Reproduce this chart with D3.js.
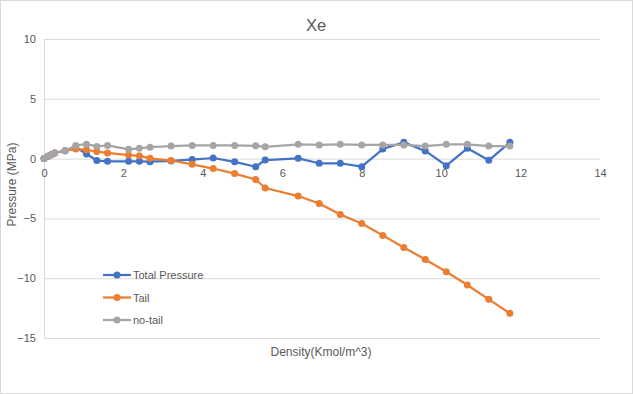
<!DOCTYPE html>
<html>
<head>
<meta charset="utf-8">
<script src="https://cdn.jsdelivr.net/npm/d3@7"></script>
<style>
    html, body { margin: 0; padding: 0; background: #fff; }
    #chart { width: 633px; height: 394px; }
    text { font-family: "Liberation Sans", Arial, sans-serif; }
</style>
</head>
<body>
<div id="chart"></div>
<script>
// ========================================
// DATA
// ========================================
const density = [0, 0.1, 0.18, 0.27, 0.53, 0.8, 1.07, 1.33, 1.6, 2.13, 2.4, 2.67, 3.2, 3.73, 4.26,
    4.8, 5.33, 5.57, 6.4, 6.93, 7.46, 8.0, 8.53, 9.06, 9.6, 10.13, 10.66, 11.2, 11.73];

const totalPressure = [0, 0.19, 0.33, 0.47, 0.66, 0.96, 0.38, -0.16, -0.23, -0.23, -0.23, -0.26, -0.2, -0.08, 0.05,
    -0.27, -0.68, -0.12, 0.02, -0.39, -0.39, -0.68, 0.8, 1.36, 0.64, -0.59, 0.86, -0.14, 1.36];

const tail = [0, 0.19, 0.33, 0.47, 0.66, 0.8, 0.74, 0.59, 0.47, 0.3, 0.23, 0.02, -0.16, -0.48, -0.83,
    -1.25, -1.75, -2.46, -3.13, -3.75, -4.67, -5.42, -6.42, -7.43, -8.43, -9.46, -10.57, -11.77, -12.94];

const noTail = [0, 0.19, 0.33, 0.47, 0.66, 1.1, 1.21, 1.02, 1.1, 0.78, 0.86, 0.95, 1.05, 1.1, 1.1,
    1.1, 1.07, 0.99, 1.19, 1.14, 1.19, 1.14, 1.14, 1.14, 1.05, 1.19, 1.19, 1.05, 1.05];

const xTicks = [0, 2, 4, 6, 8, 10, 12, 14];
const yTicks = [10, 5, 0, -5, -10, -15];

const seriesNames = ['Total Pressure', 'Tail', 'no-tail'];
const seriesColors = ['#4472C4', '#ED7D31', '#A5A5A5'];

// ========================================
// CHART
// ========================================
const width = 633, height = 394;
const plot = { left: 44, right: 600, top: 39, bottom: 338 };

const svg = d3.select('#chart').append('svg')
    .attr('width', width).attr('height', height);

// outer border
svg.append('rect')
    .attr('x', 0.5).attr('y', 0.5)
    .attr('width', width - 1).attr('height', height - 1)
    .attr('fill', '#fff').attr('stroke', '#d9d9d9');

const x = d3.scaleLinear().domain([0, 14]).range([plot.left, plot.right]);
const y = d3.scaleLinear().domain([-15, 10]).range([plot.bottom, plot.top]);

// Y axis + gridlines
const yAxis = svg.append('g')
    .attr('transform', `translate(${plot.left},0)`)
    .call(d3.axisLeft(y).tickValues(yTicks).tickSize(-(plot.right - plot.left)).tickPadding(8));
yAxis.select('.domain').attr('stroke', '#d9d9d9');
yAxis.selectAll('.tick line').attr('stroke', '#d9d9d9');
yAxis.selectAll('.tick text').attr('fill', '#595959').attr('font-size', '11px');

// X axis labels sit under the zero line
const xAxis = svg.append('g')
    .attr('transform', `translate(0,${y(0)})`)
    .call(d3.axisBottom(x).tickValues(xTicks).tickSize(0).tickPadding(11));
xAxis.select('.domain').remove();
xAxis.selectAll('.tick text').attr('fill', '#595959').attr('font-size', '11px');

// Title
svg.append('text')
    .attr('x', 316).attr('y', 31)
    .attr('text-anchor', 'middle')
    .attr('font-size', '16.5px').attr('fill', '#595959')
    .text('Xe');

// Axis titles
svg.append('text')
    .attr('x', 321).attr('y', 356)
    .attr('text-anchor', 'middle')
    .attr('font-size', '12px').attr('fill', '#595959')
    .text('Density(Kmol/m^3)');

svg.append('text')
    .attr('transform', `translate(16,${(plot.top + plot.bottom) / 2 - 4}) rotate(-90)`)
    .attr('text-anchor', 'middle')
    .attr('font-size', '12px').attr('fill', '#595959')
    .text('Pressure (MPa)');

// Series
const allSeries = [totalPressure, tail, noTail];
const line = d3.line().x((d, i) => x(density[i])).y(d => y(d));

allSeries.forEach((values, s) => {
    const g = svg.append('g');
    g.append('path')
        .datum(values)
        .attr('fill', 'none')
        .attr('stroke', seriesColors[s])
        .attr('stroke-width', 2.25)
        .attr('stroke-linejoin', 'round')
        .attr('d', line);
    g.selectAll('circle')
        .data(values).enter()
        .append('circle')
        .attr('cx', (d, i) => x(density[i]))
        .attr('cy', d => y(d))
        .attr('r', 3.5)
        .attr('fill', seriesColors[s]);
});

// Legend
const legend = svg.append('g');
seriesNames.forEach((name, i) => {
    const ly = 275 + i * 22.5;
    legend.append('line')
        .attr('x1', 103).attr('x2', 131).attr('y1', ly).attr('y2', ly)
        .attr('stroke', seriesColors[i]).attr('stroke-width', 2.25);
    legend.append('circle')
        .attr('cx', 117).attr('cy', ly).attr('r', 3.5)
        .attr('fill', seriesColors[i]);
    legend.append('text')
        .attr('x', 133).attr('y', ly + 4)
        .attr('font-size', '11px').attr('fill', '#595959')
        .text(name);
});
</script>
</body>
</html>
